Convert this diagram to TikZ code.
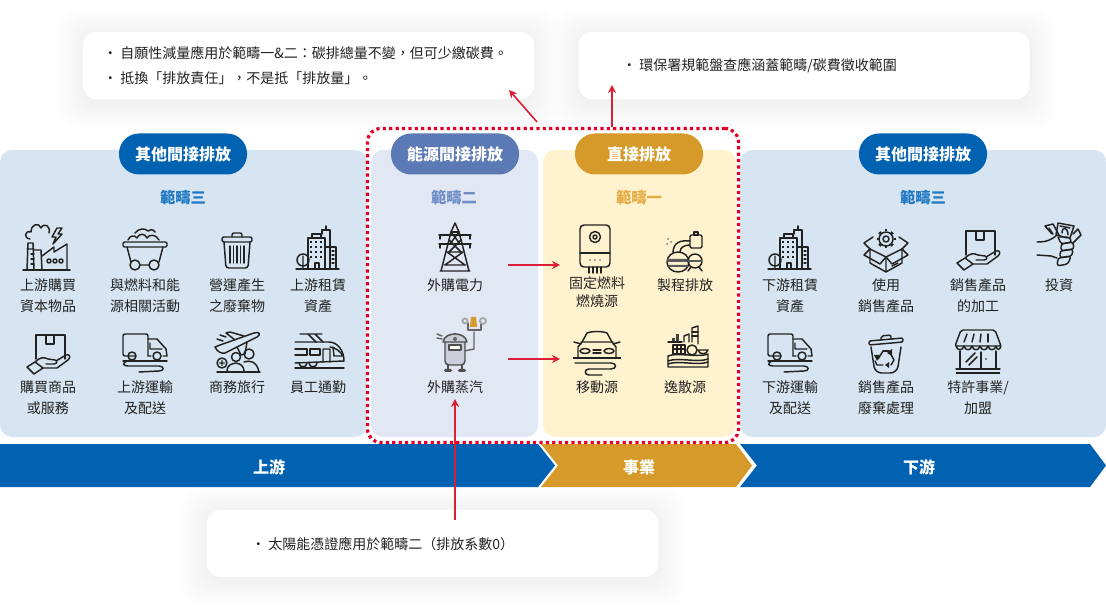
\documentclass[tikz,border=0pt]{standalone}
\usepackage{fontspec}
\usepackage{xcolor}
\usepackage{tikz}
\usetikzlibrary{positioning, arrows.meta}
\setmainfont{Noto Sans CJK TC}

\definecolor{inkdark}{HTML}{222222}
\definecolor{blueband}{HTML}{0062B1}
\definecolor{bluepanel}{HTML}{D6E5F1}
\definecolor{bluehead}{HTML}{2079C3}
\definecolor{slatepill}{HTML}{5B79B4}
\definecolor{slatepanel}{HTML}{E2E7F4}
\definecolor{slatehead}{HTML}{6F8DC6}
\definecolor{goldband}{HTML}{D69A2A}
\definecolor{goldpanel}{HTML}{FFF2CF}
\definecolor{goldhead}{HTML}{E5AC45}
\definecolor{framered}{HTML}{E60026}
\definecolor{arrowred}{HTML}{DC1F35}
\definecolor{robotgrey}{HTML}{C9CED8}

\newcommand{\pxu}{.75pt}
\newcommand{\bulletmark}{\makebox[12pt][l]{\hspace{-.6pt}•}}

\tikzset{
  panel/.style={rounded corners=9pt, inner sep=0pt},
  pill/.style={rounded corners=15pt, inner sep=0pt, text=white, minimum width=128*\pxu, minimum height=41*\pxu, font=\fontsize{12}{14}\selectfont\bfseries},
  scopehead/.style={inner sep=0pt, font=\fontsize{11.5}{14}\selectfont\bfseries},
  itemlabel/.style={anchor=north, inner sep=0pt, align=center, text=inkdark, font=\fontsize{10.5}{15.75}\selectfont},
  bandlabel/.style={inner sep=0pt, text=white, font=\fontsize{12}{14}\selectfont\bfseries},
  card/.style={fill=white, rounded corners=10pt, inner sep=0pt, minimum width=451*\pxu, minimum height=67*\pxu},
  cardline/.style={anchor=west, inner sep=0pt, text=inkdark, font=\fontsize{10.5}{14}\selectfont},
  redarrow/.style={-{Stealth[length=6pt, width=6pt]}, draw=arrowred, line width=1.2pt},
  iconline/.style={draw=inkdark, line width=1.1pt, line join=round, line cap=round},
  factory/.pic={
    \draw[iconline] (-23,24) -- (24,24);
    \draw[iconline] (-19,24) -- (-18,-3) -- (-13,-3) -- (-12,24) (-19,3) -- (-12,3);
    \draw[iconline] (-15,8) -- (-12,8) (-15,13) -- (-12,13) (-15,18) -- (-12,18);
    \draw[iconline] (-12,4) -- (-5,4) -- (-4,24);
    \draw[iconline] (-4,10) -- (8,1) -- (8,6) -- (21,-2) -- (21,24);
    \foreach \wx in {3,9,15} \draw[iconline] (\wx,15) circle (2);
    \draw[iconline] (-16,-7) .. controls (-23,-8) and (-21,-16) .. (-15,-14) .. controls (-15,-22) and (-7,-24) .. (-5,-18) .. controls (-2,-24) and (5,-20) .. (3,-13);
    \draw[iconline] (11,-18) -- (6,-9) -- (10,-9) -- (7,-2) -- (16,-12) -- (12,-12) -- (16,-18) -- cycle;
  },
  coalcart/.pic={
    \draw[iconline, rounded corners=1pt] (-22,-7) rectangle (22,-2);
    \draw[iconline] (-18,-2) -- (-14,13) (18,-2) -- (14,13) (-5,16) -- (4,16);
    \draw[iconline] (-10,16) circle (5) (9,16) circle (5);
    \draw[iconline] (-17,-9) .. controls (-15,-14) and (-10,-14) .. (-8,-11) .. controls (-6,-16) and (0,-16) .. (2,-11) .. controls (4,-15) and (11,-15) .. (14,-9);
    \draw[iconline] (-10,-16) .. controls (-6,-21) and (0,-21) .. (3,-18) (3,-18) .. controls (5,-20) and (8,-20) .. (10,-17);
  },
  wastebin/.pic={
    \draw[iconline, rounded corners=1.5pt] (-15,-12) rectangle (15,-7);
    \draw[iconline, rounded corners=1.5pt] (-5,-12) -- (-5,-16) -- (5,-16) -- (5,-12);
    \draw[iconline, rounded corners=2pt] (-13,-7) -- (-11,19) -- (11,19) -- (13,-7);
    \foreach \bx in {-7,-3.5,0,3.5,7} \draw[iconline] (\bx,-3) -- (\bx,14);
  },
  cityblock/.pic={
    \draw[iconline] (-22,21) -- (21,21);
    \draw[iconline] (-10,21) -- (-10,-10) -- (7,-10) -- (7,21);
    \draw[iconline] (-6,-10) -- (-6,-14) -- (3,-14) -- (3,-10);
    \draw[iconline] (4,-14) -- (4,-18) -- (12,-18) -- (12,-1) (8,-18) -- (8,-22);
    \draw[iconline] (7,-1) -- (18,-1) -- (18,21) (12,-1) -- (12,21);
    \foreach \by in {-6,-1,4,9} \foreach \bx in {-7,-2,3} \fill[inkdark] (\bx-1.3,\by-1.3) rectangle (\bx+1.3,\by+1.3);
    \draw[iconline] (-3,21) -- (-3,15) -- (1,15) -- (1,21);
    \draw[iconline] (14,3) -- (16,3) (14,7) -- (16,7) (14,11) -- (16,11) (14,15) -- (16,15);
    \draw[iconline] (-15,12) circle (6) (-15,8) -- (-15,21);
  },
  handbox/.pic={
    \draw[iconline] (-12,5) -- (-12,-19) -- (17,-19) -- (17,5);
    \draw[iconline] (-2,-19) -- (-2,-10) -- (6,-10) -- (6,-19);
    \draw[iconline] (-13,8) .. controls (-8,3) and (-4,3) .. (0,5) -- (7,6) .. controls (10,7) and (9,10) .. (6,10) -- (-2,10) (8,7) -- (18,1) .. controls (22,0) and (23,3) .. (20,6) -- (9,14) -- (-5,14);
    \draw[iconline] (-13,8) -- (-21,13) -- (-14,20) -- (-5,14) -- cycle;
  },
  deliverytruck/.pic={
    \draw[iconline, rounded corners=1.5pt] (-9,3) -- (-22,3) -- (-22,-19) -- (3,-19) -- (3,3) (-17,3);
    \draw[iconline] (3,3) -- (6,3) (3,-14) -- (12,-14) -- (21,-4) -- (22,3) -- (18,3) (5,-10) -- (5,-4) -- (17,-4);
    \draw[iconline] (-13,3) circle (4) (12,3) circle (4);
    \draw[iconline] (-22,8) -- (22,8);
    \draw[iconline] (-18,8) .. controls (-23,10) and (-22,13) .. (-17,13) -- (14,13) .. controls (19,13) and (20,18) .. (14,18) -- (-6,19);
  },
  planetrip/.pic={
    \draw[iconline] (-22,-5) -- (-17,-7) -- (17,-19) .. controls (23,-21) and (24,-17) .. (20,-15) -- (-12,1) .. controls (-15,2) and (-20,0) .. (-22,-5) -- cycle;
    \draw[iconline] (-2,-12) -- (-11,-19) -- (-7,-20) -- (7,-16);
    \draw[iconline] (0,-5) -- (4,3) -- (8,2) -- (10,-10);
    \draw[iconline] (-20,-13) -- (-14,-11) (-17,-17) -- (-11,-15);
    \draw[iconline] (-1,5) circle (4.5) (12,2) circle (5);
    \draw[iconline] (-10,20) .. controls (-10,12) and (-5,12) .. (-1,11) .. controls (3,12) and (7,13) .. (7,20);
    \draw[iconline] (7,10) .. controls (12,8) and (20,9) .. (22,20);
    \draw[iconline] (-15,11) circle (5) (-15,8.5) -- (-15,13.5) (-17.5,11) -- (-12.5,11);
    \draw[iconline] (-20,20) -- (23,20);
  },
  commutertrain/.pic={
    \draw[iconline] (-19,-18) -- (3,-18) (-11,-18) -- (-3,-10) (-4,-18) -- (4,-10);
    \draw[iconline] (-24,-10) -- (10,-10) .. controls (18,-10) and (25,-2) .. (25,9) -- (-24,11);
    \draw[iconline] (-24,-3) -- (-12,-3) -- (-12,3) -- (-24,3);
    \draw[iconline] (-9,-3) rectangle (1,3);
    \draw[iconline] (4,10) -- (4,-3) -- (11,-3) -- (11,10) (11,-5) .. controls (16,-5) and (22,0) .. (24,4) -- (15,4) -- (14,-5);
    \draw[iconline] (-20,11) .. controls (-20,16) and (-12,16) .. (-12,11) (-10,11) .. controls (-10,16) and (-2,16) .. (-2,11);
    \draw[iconline] (-24,16) -- (25,16);
  },
  pylon/.pic={
    \draw[iconline] (0,-24) -- (-4,-15) -- (-14,24) (0,-24) -- (4,-15) -- (14,24) (-15,24) -- (15,24);
    \draw[iconline] (-16,-12) -- (16,-12) (-16,-3) -- (16,-3) (-4,-15) -- (4,-15);
    \draw[iconline] (-15,-12) -- (-15,-8) (15,-12) -- (15,-8) (-15,-3) -- (-15,1) (15,-3) -- (15,1);
    \draw[iconline] (-6,-7) -- (6,5) (6,-7) -- (-6,5) (-8,5) -- (8,5) (-8,5) -- (10,18) (8,5) -- (-10,18) (-11,18) -- (11,18) (-4,-15) -- (5,-3) (4,-15) -- (-5,-3);
  },
  steamboiler/.pic={
    \draw[iconline, draw=inkdark!70] (8,6) -- (18,4) -- (18,-13);
    \draw[iconline, draw=inkdark!70] (12,-22) -- (12,-15) -- (25,-15) -- (25,-22);
    \fill[goldband] (15,-28) -- (20,-28) -- (21,-18) -- (14,-18) -- cycle;
    \draw[line width=1.4pt, draw=inkdark!40] (9,-24) circle (2.5) (27,-24) circle (3);
    \draw[iconline, draw=inkdark!80, fill=robotgrey, rounded corners=3pt] (-11,-6) rectangle (9,20);
    \draw[iconline, draw=inkdark!80, fill=robotgrey] (-13,-3) .. controls (-12,-9) and (-6,-11) .. (-1,-11) .. controls (4,-11) and (10,-9) .. (11,-3) -- cycle;
    \fill[inkdark!70] (-1,-6) circle (2);
    \fill[inkdark!70] (-1,-11) circle (1.5);
    \draw[iconline, draw=inkdark!80, fill=white] (-7,0) rectangle (5,5);
    \draw[iconline, draw=inkdark!80] (-8,20) -- (-8,24) (6,20) -- (6,24);
    \fill[inkdark!80, rounded corners=1pt] (-12,24) rectangle (-4,27) (2,24) rectangle (10,27);
    \draw[iconline, draw=inkdark!70] (-19,-11) -- (-14,-9) (-19,-7) -- (-14,-6);
  },
  waterheater/.pic={
    \draw[iconline, rounded corners=3pt] (-15,-24) rectangle (15,18);
    \draw[iconline] (-15,4) -- (15,4);
    \draw[iconline] (0,-12) circle (5.5);
    \draw[iconline] (0,-12) circle (2);
    \foreach \dx in {-5,0,5} \fill[inkdark!70] (\dx,11) circle (.9);
    \foreach \dx in {-6,-2,2,6} \draw[iconline] (\dx,18) -- (\dx,24);
  },
  processplant/.pic={
    \draw[iconline] (-7,10) ellipse (11 and 10);
    \fill[inkdark!75] (-18,7) rectangle (4,10) (-17,13) rectangle (3,15);
    \draw[iconline] (-12,1) .. controls (-12,-10) and (-4,-12) .. (5,-11) (-5,0) .. controls (-5,-5) and (0,-7) .. (5,-7);
    \draw[iconline, rounded corners=1pt] (5,-17) rectangle (17,-4);
    \draw[iconline] (9,-20) -- (9,-17) -- (13,-17) -- (13,-20) -- cycle;
    \draw[iconline] (10,9) circle (7);
    \fill[inkdark!75] (3,8) rectangle (17,10);
    \draw[iconline] (6,15) -- (3,19) (14,15) -- (17,19);
    \fill[inkdark!60] (-17,-13) circle (1) (-14,-10) circle (1) (-18,-8) circle (1);
  },
  carroad/.pic={
    \draw[iconline] (-15,-12) -- (-10,-21) .. controls (-5,-23) and (5,-23) .. (10,-21) -- (15,-12);
    \draw[iconline] (-16,-12) -- (16,-12) (-15,-12) -- (-19,-7) -- (-19,3) (15,-12) -- (19,-7) -- (19,3);
    \draw[iconline] (-23,-12) -- (-16,-10) (23,-12) -- (16,-10);
    \draw[iconline] (-12,-3) ellipse (5 and 2.5) (12,-3) ellipse (5 and 2.5);
    \draw[iconline] (-4,-4) -- (4,-4) (-4,-1) -- (4,-1);
    \draw[line width=1.6pt, draw=inkdark] (-24,4) -- (24,4);
    \draw[iconline] (-22,9) -- (14,9) .. controls (20,9) and (20,15) .. (14,15) -- (-8,15) .. controls (-13,15) and (-13,21) .. (-8,21) -- (5,21);
  },
  fugitivesite/.pic={
    \draw[iconline] (-20,8) .. controls (-10,4) and (10,10) .. (20,6) -- (20,19) -- (-20,19) -- cycle;
    \draw[iconline] (-20,13) .. controls (-10,9) and (10,15) .. (20,11) (-20,16) .. controls (-10,12) and (10,18) .. (20,14);
    \draw[iconline] (-15,-3) rectangle (-3,6) (-11,-3) -- (-11,6) (-7,-3) -- (-7,6) (-15,1) -- (-3,1);
    \draw[iconline] (4,2) circle (5);
    \draw[iconline] (10,2) .. controls (11,7) and (19,7) .. (20,2) -- cycle;
    \foreach \bx/\by in {-20/-5,-16/-10,-12/-14} \fill[inkdark!85] (\bx,\by) rectangle (\bx+3,-6);
    \draw[iconline] (-20,-6) -- (-6,-6);
    \draw[iconline] (-4,-6) -- (-4,-12) -- (1,-14) -- (1,-6) (4,-6) -- (4,-20) -- (10,-22) -- (10,-4);
    \draw[iconline] (4,-12) -- (10,-12) (4,-16) -- (10,-16);
  },
  gearbox/.pic={
    \draw[iconline] (-16,-1) -- (0,7) -- (16,-1) (-16,-1) -- (-16,13) -- (0,22) -- (16,13) -- (16,-1) (0,7) -- (0,22);
    \draw[iconline] (-16,-1) -- (-22,5) -- (-6,14) -- (0,7) -- (6,14) -- (22,5) -- (16,-1);
    \draw[iconline] (-16,-1) -- (-22,-7) -- (-13,-13) (16,-1) -- (22,-7) -- (13,-13);
    \draw[iconline] (0,-11) circle (3);
    \draw[iconline] (0,-11) circle (7);
    \foreach \ta in {0,45,...,315} \draw[line width=2.2pt, draw=inkdark] (\ta:7.5) ++(0,-11) -- ++(\ta:2);
    \draw[iconline] (6,16) -- (12,13);
  },
  cashfist/.pic={
    \draw[iconline] (-22,-4) .. controls (-12,-4) and (-8,-6) .. (-2,-11) -- (8,-8);
    \draw[iconline] (-22,9) -- (-8,10) -- (-2,12);
    \draw[iconline, rounded corners=2pt] (-1,-9) -- (10,-9) -- (13,-4) -- (2,-2) -- (-1,-9);
    \draw[iconline, rounded corners=2pt] (2,-2) -- (14,-4) -- (15,3) -- (2,5) -- cycle;
    \draw[iconline, rounded corners=2pt] (1,5) -- (14,3) -- (13,10) -- (1,12) -- cycle;
    \draw[iconline, rounded corners=2pt] (-1,12) -- (12,10) -- (9,18) -- (-2,20) -- cycle;
    \draw[iconline] (-7,-12) -- (-14,-20) -- (-6,-22) -- (0,-11);
    \draw[iconline] (-3,-11) -- (-1,-23) -- (15,-20) -- (11,-8);
    \draw[iconline] (1,-20) -- (11,-18);
    \draw[iconline] (3,-13) .. controls (3,-20) and (9,-19) .. (9,-11);
    \draw[iconline] (14,-12) -- (19,-17) -- (22,-11) -- (14,-3);
    \draw[iconline] (-10,-18) -- (-6,-12);
  },
  recyclebin/.pic={
    \draw[iconline, rounded corners=1pt] (-17,-13) -- (17,-16) -- (17,-12) -- (-17,-9) -- cycle;
    \draw[iconline, rounded corners=1.5pt] (-5,-14) -- (-5,-18) -- (5,-19) -- (5,-15);
    \draw[iconline, rounded corners=5pt] (-15,-7) -- (-11,19) -- (11,19) -- (15,-7);
    \draw[iconline] (-3,-3) -- (-8,5) (3,-3) -- (8,6) -- (5,11) (-3,11) -- (-9,11) -- (-11,7);
    \draw[iconline] (-3,-3) -- (3,-3);
    \fill[inkdark] (3,8) -- (-1,11) -- (3,14) -- cycle (6,-5) -- (6,2) -- (1,-1) -- cycle (-12,1) -- (-6,1) -- (-9,7) -- cycle;
  },
  storefront/.pic={
    \draw[iconline, rounded corners=1.5pt] (-17,-22) -- (17,-22) -- (23,-6) -- (-23,-6) -- cycle;
    \draw[iconline] (-22,-6) .. controls (-21,-1) and (-15,-1) .. (-14,-6) .. controls (-13,-1) and (-7,-1) .. (-6,-6) .. controls (-5,-1) and (1,-1) .. (2,-6) .. controls (3,-1) and (9,-1) .. (10,-6) .. controls (11,-1) and (17,-1) .. (18,-6) .. controls (19,-1) and (22,-2) .. (23,-6);
    \foreach \ax/\tx in {-14/-11,-6/-4,2/3,10/10} \draw[iconline] (\ax,-10) -- (\tx,-18);
    \draw[iconline] (-18,-1) -- (-18,17) (18,-1) -- (18,17) (3,0) -- (3,17);
    \draw[iconline] (-12,10) -- (-3,1) (-9,13) -- (-1,5);
    \fill[inkdark] (8,7) circle (.9);
    \draw[iconline] (-22,17) -- (22,17);
    \draw[line width=1.8pt, draw=inkdark] (-22,21) -- (22,21);
  },
}

\begin{document}
\begin{tikzpicture}[x=.75pt, y=-.75pt]
\useasboundingbox (0,0) rectangle (1106,616);
% Cards
\foreach \s in {2,4,...,26} {
  \fill[black, opacity=.003, rounded corners=14pt] (83-\s,34-\s) rectangle (534+\s,103+\s);
  \fill[black, opacity=.003, rounded corners=14pt] (578-\s,34-\s) rectangle (1030+\s,103+\s);
  \fill[black, opacity=.003, rounded corners=14pt] (207-\s,512-\s) rectangle (658+\s,581+\s);
}
\node[card] (offsetcard) at (308.5,65.5) {};
\node[card] (regcard) at (804,65.5) {};
\node[card] (solarcard) at (432.5,543.5) {};
\node[cardline] (offsetone) at (104,53) {\bulletmark 自願性減量應用於範疇一\&二：碳排總量不變，但可少繳碳費。};
\node[cardline] (offsettwo) at (104,78) {\bulletmark 抵換「排放責任」，不是抵「排放量」。};
\node[cardline] (regline) at (623,66) {\bulletmark 環保署規範盤查應涵蓋範疇/碳費徵收範圍};
\node[cardline] (solarline) at (252,544) {\bulletmark 太陽能憑證應用於範疇二（排放系數0）};
% Panels
\node[panel, fill=bluepanel, minimum width=367*\pxu, minimum height=287*\pxu] (upstream) at (183.5,293.5) {};
\node[panel, fill=slatepanel, minimum width=167*\pxu, minimum height=287*\pxu] (energy) at (454.5,293.5) {};
\node[panel, fill=goldpanel, minimum width=193*\pxu, minimum height=287*\pxu] (direct) at (639.5,293.5) {};
\node[panel, fill=bluepanel, minimum width=366*\pxu, minimum height=287*\pxu] (downstream) at (923,293.5) {};
% Pills
\node[pill, fill=blueband] (otherup) at (183,154) {其他間接排放};
\node[pill, fill=slatepill] (energyhead) at (455,154) {能源間接排放};
\node[pill, fill=goldband] (directhead) at (639,154) {直接排放};
\node[pill, fill=blueband] (otherdown) at (923,154) {其他間接排放};
\node[scopehead, text=bluehead] (scopethreeup) at (183,197.5) {範疇三};
\node[scopehead, text=slatehead] (scopetwo) at (454,198) {範疇二};
\node[scopehead, text=goldhead] (scopeone) at (639,198) {範疇一};
\node[scopehead, text=bluehead] (scopethreedown) at (923,197.5) {範疇三};
% Band
\fill[blueband] (0,444) -- (538,444) -- (555,465.5) -- (538,487) -- (0,487) -- cycle;
\fill[goldband] (541,444) -- (736,444) -- (752,465.5) -- (736,487) -- (541,487) -- (558,465.5) -- cycle;
\fill[blueband] (740,444) -- (1090,444) -- (1106,465.5) -- (1090,487) -- (740,487) -- (757,465.5) -- cycle;
\node[bandlabel] (bandup) at (269,467) {上游};
\node[bandlabel] (bandop) at (639,467) {事業};
\node[bandlabel] (banddown) at (919,467) {下游};
% Upstream items
\pic at (46,246) {factory};
\pic at (145,249) {coalcart};
\pic at (237,249) {wastebin};
\pic at (318,248) {cityblock};
\pic at (48,354) {handbox};
\pic at (145,353) {deliverytruck};
\pic at (237,352) {planetrip};
\pic at (319,352) {commutertrain};
\node[itemlabel] (capgoods) at (48,278) {上游購買\\資本物品};
\node[itemlabel] (fuelrel) at (145,278) {與燃料和能\\源相關活動};
\node[itemlabel] (opwaste) at (237,278) {營運產生\\之廢棄物};
\node[itemlabel] (upleased) at (318,278) {上游租賃\\資產};
\node[itemlabel] (goods) at (48,380) {購買商品\\或服務};
\node[itemlabel] (uptrans) at (145,380) {上游運輸\\及配送};
\node[itemlabel] (travel) at (237,380) {商務旅行};
\node[itemlabel] (commute) at (318,380) {員工通勤};
% Energy items
\pic at (456,345) {steamboiler};
\pic at (455,247) {pylon};
\node[itemlabel] (power) at (455,278) {外購電力};
\node[itemlabel] (steam) at (455,380) {外購蒸汽};
% Direct items
\pic at (595,249) {waterheater};
\pic at (685,252) {processplant};
\pic at (597,354) {carroad};
\pic at (688,348) {fugitivesite};
\node[itemlabel, font=\fontsize{10.5}{13.5}\selectfont] (fixedfuel) at (597,276) {固定燃料\\燃燒源};
\node[itemlabel] (process) at (685,278) {製程排放};
\node[itemlabel] (mobile) at (597,380) {移動源};
\node[itemlabel] (fugitive) at (685,380) {逸散源};
% Downstream items
\pic at (790,248) {cityblock};
\pic at (886,250) {gearbox};
\pic at (978,250) {handbox};
\pic at (1059,246) {cashfist};
\pic at (790,353) {deliverytruck};
\pic at (886,354) {recyclebin};
\pic at (978,352) {storefront};
\node[itemlabel] (downleased) at (790,278) {下游租賃\\資產};
\node[itemlabel] (useprod) at (886,278) {使用\\銷售產品};
\node[itemlabel] (procprod) at (978,278) {銷售產品\\的加工};
\node[itemlabel] (invest) at (1059,278) {投資};
\node[itemlabel] (downtrans) at (790,380) {下游運輸\\及配送};
\node[itemlabel] (endlife) at (886,380) {銷售產品\\廢棄處理};
\node[itemlabel] (franchise) at (978,380) {特許事業/\\加盟};
% Frame
\node[draw=framered, line width=2.4pt, dash pattern=on 2.4pt off 2.4pt, rounded corners=10pt, inner sep=0pt, minimum width=371*\pxu, minimum height=314*\pxu] (scopeframe) at (553,285.5) {};
% Arrows
\coordinate (offsetstart) at (537,122);
\coordinate (offsettip) at (509,90);
\coordinate (regtip) at (612,85);
\coordinate (solarstart) at (455,520);
\coordinate (steamtip) at (455,399);
\coordinate (powerout) at (508,265);
\coordinate (fuelin) at (560,265);
\coordinate (steamout) at (508,359);
\coordinate (mobilein) at (560,359);
\draw[redarrow] (offsetstart) -- (offsettip);
\draw[redarrow] (scopeframe.north -| regtip) -- (regtip);
\draw[redarrow] (solarstart) -- (steamtip);
\draw[redarrow] (powerout) -- (fuelin);
\draw[redarrow] (steamout) -- (mobilein);
\end{tikzpicture}
\end{document}
